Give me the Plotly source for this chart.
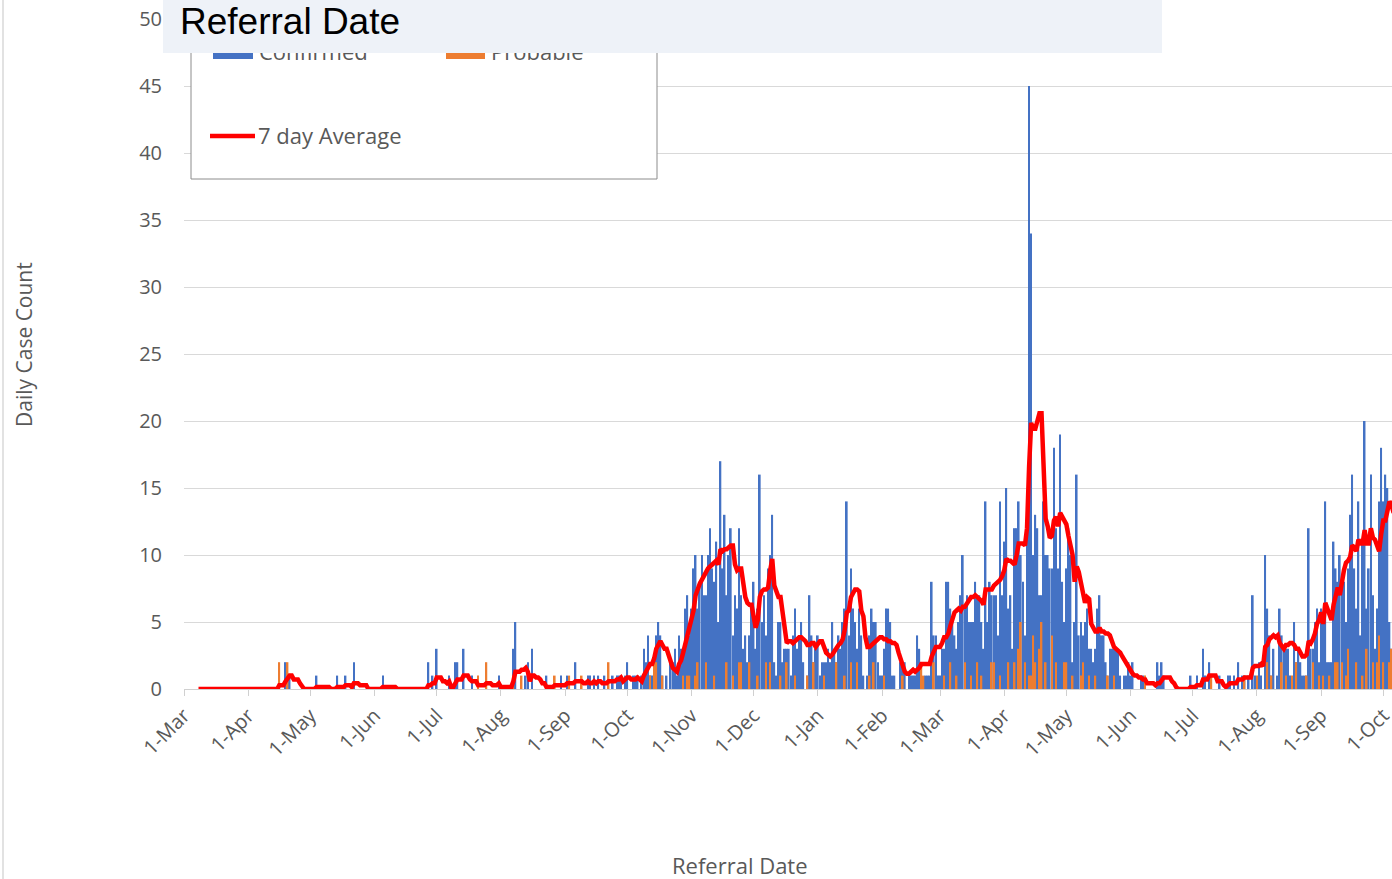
import pandas as pd
import plotly.graph_objects as go

START_DATE = "2020-03-08"

# ---- Confirmed daily counts (one list per month, starting 8 Mar 2020) ----
conf_2020_03 = [0,0,0,0,0,0,0,0,0,0, 0,0,0,0,0,0,0,0,0,0, 0,0,0,0]
conf_2020_04 = [0,0,0,0,0,0,0,0,0,0, 0,0,0,0,0,0,0,0,2,0, 1,0,0,0,0,0,0,0,0,0]
conf_2020_05 = [0,0,0,1,0,0,0,0,0,0, 0,0,0,1,0,0,0,1,0,0, 0,2,0,0,0,0,0,0,0,0, 0]
conf_2020_06 = [0,0,0,0,1,0,0,0,0,0, 0,0,0,0,0,0,0,0,0,0, 0,0,0,0,0,0,2,0,1,0]
conf_2020_07 = [3,0,0,0,0,0,1,0,0,2, 2,0,0,3,0,0,0,1,0,0, 0,0,0,0,0,0,0,0,0,0, 1]
conf_2020_08 = [0,0,0,0,0,0,3,5,0,0, 0,0,1,2,0,3,0,0,0,0, 0,0,1,0,0,0,0,0,0,1, 0]
conf_2020_09 = [0,1,0,0,0,2,0,0,0,0, 0,1,1,0,1,0,1,0,0,1, 0,0,0,1,0,1,1,1,0,1]
conf_2020_10 = [2,0,0,1,1,1,0,1,3,2, 4,1,1,1,4,5,4,1,0,1, 0,2,2,3,1,4,3,3,6,7, 4]
conf_2020_11 = [6,9,10,6,8,10,7,7,10,12, 9,8,11,5,17,9,13,7,10,12, 4,7,6,12,7,3,4,2,4,6]
conf_2020_12 = [8,3,6,16,5,7,4,9,10,13, 2,1,5,5,2,3,3,3,1,4, 6,3,4,5,2,0,1,7,4,2, 3]
conf_2021_01 = [4,1,2,2,2,3,2,5,3,2, 4,3,5,6,14,4,9,6,5,3, 6,4,1,0,1,4,6,5,5,2, 1]
conf_2021_02 = [1,3,6,6,5,1,1,0,0,2, 2,2,0,1,1,1,1,4,3,0, 0,1,1,1,8,4,4,1]
conf_2021_03 = [1,3,3,8,8,6,5,4,3,5, 7,10,6,7,5,5,5,8,7,7, 5,3,14,5,8,7,7,7,4,14, 7]
conf_2021_04 = [11,15,6,7,3,12,12,14,10,8, 4,12,45,34,10,13,12,7,7,14, 10,10,9,9,18,12,9,19,8,5]
conf_2021_05 = [9,12,10,2,5,16,4,5,4,5, 6,3,3,2,3,6,7,4,4,2, 1,3,3,3,3,3,1,0,1,1, 2]
conf_2021_06 = [1,2,0,0,0,1,1,0,0,0, 0,0,0,2,1,2,1,0,0,0, 0,0,0,0,0,0,0,0,0,1]
conf_2021_07 = [0,0,1,0,0,3,1,0,2,0, 0,0,0,1,0,0,0,1,1,0, 1,0,2,0,1,1,0,1,0,7, 1]
conf_2021_08 = [0,2,1,0,10,6,4,1,3,0, 1,6,4,3,3,3,1,0,5,2, 3,2,1,1,1,12,3,3,5,6, 2]
conf_2021_09 = [6,5,14,2,2,2,11,9,8,10, 8,8,5,9,13,16,9,6,14,4, 11,20,6,9,16,7,3,6,14,18]
conf_2021_10 = [14,16,15,5,3,14]

# ---- Probable daily counts ----
prob_2020_03 = [0,0,0,0,0,0,0,0,0,0, 0,0,0,0,0,0,0,0,0,0, 0,0,0,0]
prob_2020_04 = [0,0,0,0,0,0,0,0,0,0, 0,0,0,0,0,2,0,0,0,2, 0,0,0,0,0,0,0,0,0,0]
prob_2020_05 = [0,0,0,0,0,0,0,0,0,0, 0,0,0,0,0,0,0,0,0,0, 0,0,0,0,0,0,0,0,0,0, 0]
prob_2020_06 = [0,0,0,0,0,0,0,0,0,0, 0,0,0,0,0,0,0,0,0,0, 0,0,0,0,0,0,0,0,0,0]
prob_2020_07 = [0,0,0,0,0,0,0,0,0,0, 0,0,0,0,0,0,0,0,0,0, 1,0,0,0,2,0,0,0,0,0, 0]
prob_2020_08 = [0,0,0,0,0,0,1,0,0,0, 1,0,0,0,0,0,0,0,0,0, 0,0,0,0,0,0,1,0,0,0, 0]
prob_2020_09 = [0,0,1,0,0,0,0,0,1,0, 0,0,0,0,0,0,0,0,0,0, 0,2,0,0,0,0,0,0,0,0]
prob_2020_10 = [0,0,0,0,0,0,0,0,0,0, 0,1,0,2,2,0,0,1,0,0, 0,0,0,0,0,0,0,1,0,1, 1]
prob_2020_11 = [0,0,1,2,0,0,0,2,0,0, 0,1,0,0,0,0,0,2,0,0, 1,0,0,2,2,0,0,0,2,0]
prob_2020_12 = [0,0,1,0,0,0,2,0,2,0, 0,0,0,1,0,0,2,0,0,0, 1,0,0,0,0,0,1,0,0,2, 0]
prob_2021_01 = [0,0,0,1,0,0,0,0,0,2, 0,0,0,1,0,0,2,0,0,2, 0,0,0,0,0,1,0,2,0,0, 0]
prob_2021_02 = [0,1,0,0,0,0,0,0,0,0, 1,0,0,0,0,0,0,0,0,2, 1,0,0,0,0,2,0,0]
prob_2021_03 = [0,0,1,0,0,2,0,0,1,0, 0,0,2,0,0,1,0,0,2,0, 1,0,0,0,0,2,2,0,0,1, 0]
prob_2021_04 = [0,0,2,0,0,2,0,3,5,0, 2,0,1,1,4,2,0,3,5,0, 2,0,0,4,0,2,0,0,0,2]
prob_2021_05 = [2,0,0,1,0,0,0,1,2,0, 0,1,0,0,1,0,0,0,0,0, 1,0,0,1,0,0,0,0,0,0, 0]
prob_2021_06 = [0,0,0,0,0,0,0,1,0,0, 0,0,0,0,0,0,0,0,0,0, 0,0,0,0,0,0,0,0,0,0]
prob_2021_07 = [0,0,0,0,0,0,0,0,0,1, 0,0,0,0,0,0,0,0,0,0, 0,0,0,0,0,1,0,0,0,0, 0]
prob_2021_08 = [1,0,0,0,0,2,0,1,0,0, 0,0,2,0,1,0,0,1,0,2, 0,0,0,0,1,0,0,2,0,0, 1]
prob_2021_09 = [0,1,0,0,1,0,0,2,2,0, 2,0,1,3,0,0,0,2,0,0, 1,0,3,0,0,2,0,2,4,0]
prob_2021_10 = [2,0,0,2,3,0]

confirmed = (conf_2020_03 + conf_2020_04 + conf_2020_05 + conf_2020_06 + conf_2020_07 +
             conf_2020_08 + conf_2020_09 + conf_2020_10 + conf_2020_11 + conf_2020_12 +
             conf_2021_01 + conf_2021_02 + conf_2021_03 + conf_2021_04 + conf_2021_05 +
             conf_2021_06 + conf_2021_07 + conf_2021_08 + conf_2021_09 + conf_2021_10)
probable = (prob_2020_03 + prob_2020_04 + prob_2020_05 + prob_2020_06 + prob_2020_07 +
            prob_2020_08 + prob_2020_09 + prob_2020_10 + prob_2020_11 + prob_2020_12 +
            prob_2021_01 + prob_2021_02 + prob_2021_03 + prob_2021_04 + prob_2021_05 +
            prob_2021_06 + prob_2021_07 + prob_2021_08 + prob_2021_09 + prob_2021_10)

n = min(len(confirmed), len(probable))
confirmed = confirmed[:n]
probable = probable[:n]
dates = pd.date_range(START_DATE, periods=n, freq="D")
total = pd.Series(confirmed) + pd.Series(probable)
avg7 = total.rolling(7, min_periods=1).mean()

# ---- geometry ----
W, H = 1392, 879
ML, MR, MT, MB = 184, 0, 19, 190
PW = W - ML - MR
PH = H - MT - MB


def px(x):
    return (x - ML) / PW


def py(y):
    return (H - MB - y) / PH


GREY = "#595959"
FONT = "Open Sans, Noto Sans, sans-serif"

fig = go.Figure()
fig.add_trace(go.Bar(x=dates, y=confirmed, name="Confirmed",
                     marker=dict(color="#4472C4", line=dict(width=0))))
fig.add_trace(go.Bar(x=dates, y=probable, name="Probable",
                     marker=dict(color="#ED7D31", line=dict(width=0))))
fig.add_trace(go.Scatter(x=dates, y=avg7, name="7 day Average", mode="lines",
                         line=dict(color="#FF0000", width=4.5)))

fig.update_layout(
    width=W, height=H,
    margin=dict(l=ML, r=MR, t=MT, b=MB, autoexpand=False),
    paper_bgcolor="white", plot_bgcolor="white",
    barmode="overlay", bargap=0.2,
    showlegend=False,
    font=dict(family=FONT, color=GREY, size=18),
)
fig.update_xaxes(
    type="date", range=["2020-03-01", "2021-10-05 05:00"],
    tick0="2020-03-01", dtick="M1", tickformat="%-d-%b", tickangle=-45,
    ticklabeloverflow="allow",
    showgrid=False, zeroline=False,
    showline=True, linecolor="#d0d0d0", linewidth=1,
    ticks="outside", ticklen=6, tickcolor="#d0d0d0",
    tickfont=dict(size=20, color=GREY, family=FONT),
)
fig.update_yaxes(
    range=[0, 50], dtick=5, tick0=0,
    showgrid=True, gridcolor="#d9d9d9", gridwidth=1,
    zeroline=False, showline=False,
    ticks="outside", ticklen=17, tickcolor="rgba(0,0,0,0)",
    tickfont=dict(size=20, color=GREY, family=FONT),
)

shapes = [
    # outer chart border at left
    dict(type="line", xref="paper", yref="paper", x0=px(3), x1=px(3), y0=py(879), y1=py(0),
         line=dict(color="#d9d9d9", width=1.5), layer="above"),
    # legend frame
    dict(type="rect", xref="paper", yref="paper", x0=px(191), x1=px(657), y0=py(179), y1=py(35),
         fillcolor="white", line=dict(color="#8c8c8c", width=1), layer="above"),
    dict(type="rect", xref="paper", yref="paper", x0=px(213), x1=px(253), y0=py(59), y1=py(49),
         fillcolor="#4472C4", line=dict(width=0), layer="above"),
    dict(type="rect", xref="paper", yref="paper", x0=px(446), x1=px(485), y0=py(59), y1=py(49),
         fillcolor="#ED7D31", line=dict(width=0), layer="above"),
    dict(type="line", xref="paper", yref="paper", x0=px(210), x1=px(255), y0=py(136), y1=py(136),
         line=dict(color="#FF0000", width=4.5), layer="above"),
]

annotations = [
    dict(text="Daily Case Count", xref="paper", yref="paper", x=px(24), y=py(345),
         textangle=-90, showarrow=False, xanchor="center", yanchor="middle",
         font=dict(size=21, color=GREY, family=FONT)),
    dict(text="Referral Date", xref="paper", yref="paper", x=px(740), y=py(865),
         showarrow=False, xanchor="center", yanchor="middle",
         font=dict(size=22, color=GREY, family=FONT)),
    dict(text="Confirmed", xref="paper", yref="paper", x=px(257), y=py(51),
         showarrow=False, xanchor="left", yanchor="middle",
         font=dict(size=22, color=GREY, family=FONT)),
    dict(text="Probable", xref="paper", yref="paper", x=px(489), y=py(51),
         showarrow=False, xanchor="left", yanchor="middle",
         font=dict(size=22, color=GREY, family=FONT)),
    dict(text="7 day Average", xref="paper", yref="paper", x=px(256), y=py(135),
         showarrow=False, xanchor="left", yanchor="middle",
         font=dict(size=22, color=GREY, family=FONT)),
    # header band (drawn after legend texts so it covers them)
    dict(text=" ", xref="paper", yref="paper", x=px(163), y=py(0),
         showarrow=False, xanchor="left", yanchor="top",
         width=999, height=53, bgcolor="#EEF2F8", borderpad=0, borderwidth=0),
    dict(text="Referral Date", xref="paper", yref="paper", x=px(178), y=py(22),
         showarrow=False, xanchor="left", yanchor="middle",
         font=dict(size=37, color="#000000", family="Liberation Sans, Arial, sans-serif")),
]

fig.update_layout(shapes=shapes, annotations=annotations)
fig.write_html("out.html", config={"displayModeBar": False},
               post_script="document.body.style.margin='0px';")
